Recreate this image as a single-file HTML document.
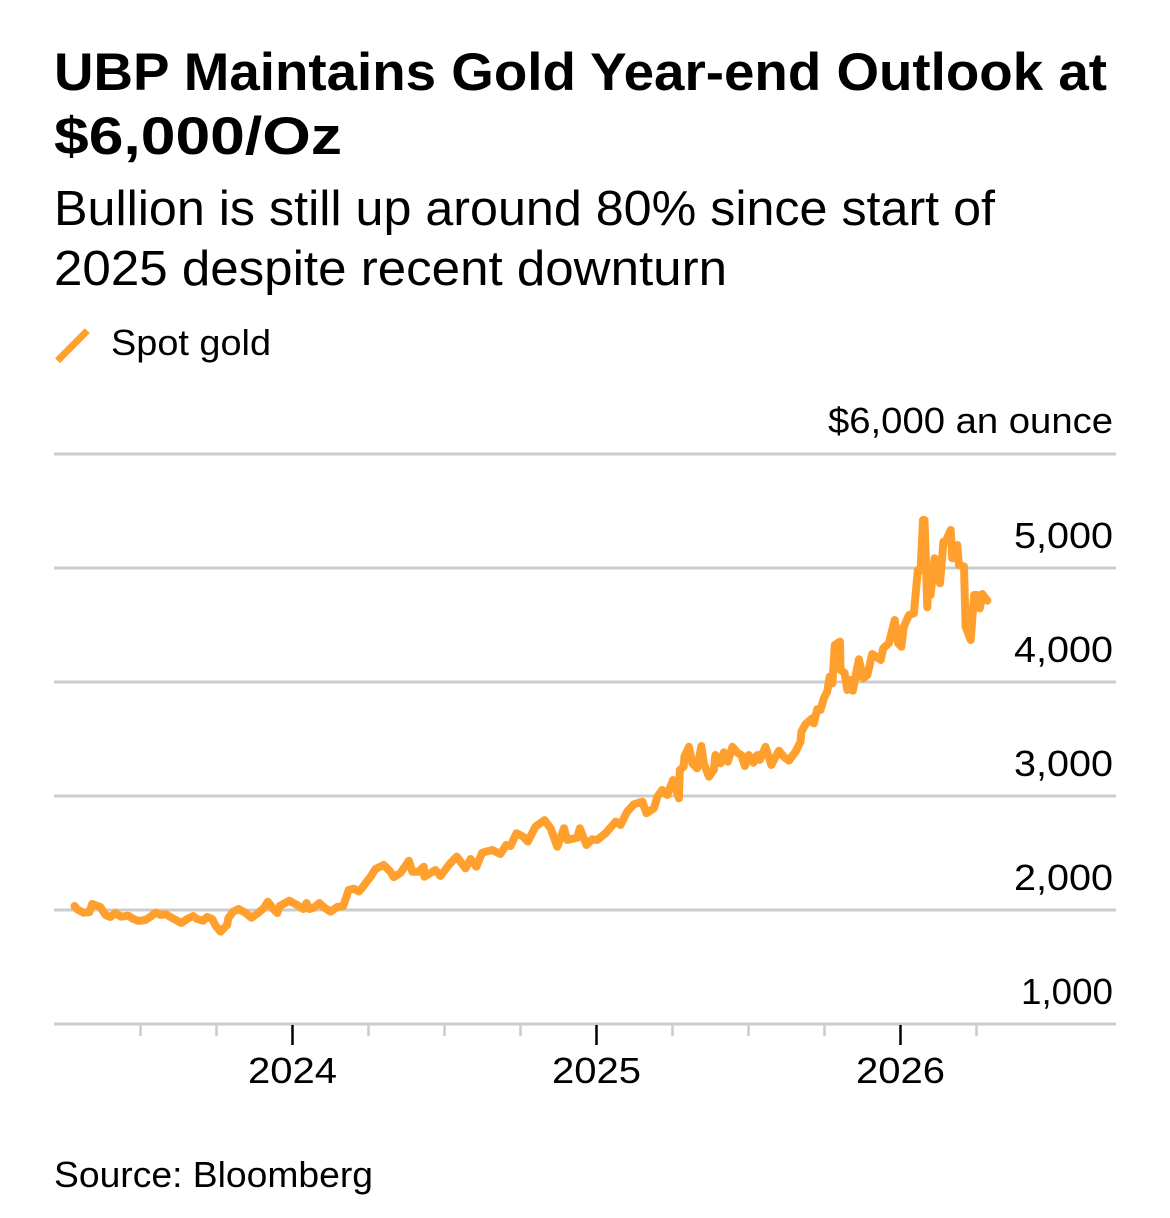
<!DOCTYPE html>
<html lang="en">
<head>
<meta charset="utf-8">
<title>UBP Maintains Gold Year-end Outlook at $6,000/Oz</title>
<style>
html,body{margin:0;padding:0;background:#fff;width:1170px;height:1218px;overflow:hidden}
svg{display:block}
text{font-family:"Liberation Sans",Arial,sans-serif;fill:#000}
</style>
</head>
<body>
<svg id="chart" xmlns="http://www.w3.org/2000/svg" width="1170" height="1218" viewBox="0 0 1170 1218">
  <text x="54" y="90" font-size="53" font-weight="700" lengthAdjust="spacingAndGlyphs" textLength="1053">UBP Maintains Gold Year-end Outlook at</text>
  <text x="54" y="154" font-size="53" font-weight="700" lengthAdjust="spacingAndGlyphs" textLength="288">$6,000/Oz</text>
  <text x="54" y="225" font-size="49" lengthAdjust="spacingAndGlyphs" textLength="941">Bullion is still up around 80% since start of</text>
  <text x="54" y="285" font-size="49" lengthAdjust="spacingAndGlyphs" textLength="673">2025 despite recent downturn</text>
  <line x1="57.5" y1="360.7" x2="87.3" y2="330.7" stroke="#ffa02e" stroke-width="7"/>
  <text x="111" y="355" font-size="36" lengthAdjust="spacingAndGlyphs" textLength="160">Spot gold</text>
  <text x="828" y="433" font-size="36" lengthAdjust="spacingAndGlyphs" textLength="285">$6,000 an ounce</text>
  <g id="grid"></g>
  <g id="xaxis"></g>
  <g id="ylabels"></g>
  <path id="series" fill="none" stroke="#ffa02e" stroke-width="8" stroke-linejoin="round" stroke-linecap="round"/>
  <text x="54" y="1187" font-size="36" lengthAdjust="spacingAndGlyphs" textLength="319">Source: Bloomberg</text>
</svg>
<script>
var dates = [2023.283,2023.292,2023.312,2023.332,2023.341,2023.368,2023.385,2023.401,2023.418,2023.436,2023.460,2023.477,2023.493,2023.516,2023.533,2023.549,2023.566,2023.582,2023.604,2023.634,2023.654,2023.673,2023.686,2023.706,2023.719,2023.736,2023.749,2023.763,2023.785,2023.789,2023.805,2023.823,2023.845,2023.865,2023.888,2023.906,2023.919,2023.937,2023.950,2023.958,2023.989,2024.015,2024.036,2024.046,2024.056,2024.069,2024.088,2024.102,2024.125,2024.147,2024.167,2024.185,2024.202,2024.218,2024.229,2024.240,2024.257,2024.273,2024.300,2024.322,2024.333,2024.355,2024.383,2024.394,2024.416,2024.432,2024.434,2024.470,2024.487,2024.514,2024.540,2024.569,2024.586,2024.605,2024.624,2024.657,2024.684,2024.703,2024.717,2024.737,2024.759,2024.774,2024.799,2024.829,2024.849,2024.871,2024.893,2024.904,2024.937,2024.945,2024.967,2024.986,2025.002,2025.030,2025.063,2025.079,2025.101,2025.123,2025.151,2025.164,2025.189,2025.200,2025.216,2025.233,2025.252,2025.271,2025.274,2025.287,2025.289,2025.304,2025.315,2025.331,2025.345,2025.353,2025.370,2025.386,2025.391,2025.408,2025.419,2025.432,2025.447,2025.463,2025.476,2025.488,2025.501,2025.516,2025.529,2025.537,2025.556,2025.575,2025.600,2025.616,2025.633,2025.655,2025.671,2025.674,2025.688,2025.710,2025.715,2025.726,2025.737,2025.748,2025.759,2025.767,2025.776,2025.784,2025.801,2025.803,2025.816,2025.825,2025.834,2025.843,2025.863,2025.877,2025.891,2025.907,2025.935,2025.943,2025.962,2025.981,2025.992,2026.003,2026.011,2026.028,2026.044,2026.057,2026.066,2026.074,2026.079,2026.088,2026.093,2026.099,2026.112,2026.130,2026.141,2026.148,2026.165,2026.170,2026.187,2026.192,2026.209,2026.214,2026.231,2026.242,2026.253,2026.261,2026.269,2026.286];
var prices = [2035,2006,1976,1982,2053,2026,1956,1939,1974,1941,1950,1921,1904,1912,1941,1976,1956,1965,1930,1886,1921,1947,1921,1906,1939,1921,1854,1810,1868,1930,1985,2009,1976,1932,1976,2018,2073,2009,1974,2035,2082,2044,2009,2061,2009,2018,2061,2026,1985,2026,2035,2175,2187,2161,2193,2234,2292,2360,2395,2336,2289,2325,2432,2336,2336,2380,2292,2351,2298,2395,2468,2366,2447,2380,2503,2526,2491,2570,2561,2673,2643,2599,2731,2789,2717,2555,2717,2614,2634,2717,2570,2620,2614,2673,2775,2746,2862,2927,2950,2848,2892,2994,3053,3009,3140,2980,3228,3257,3345,3432,3287,3243,3439,3287,3169,3228,3360,3287,3383,3301,3432,3380,3360,3263,3360,3292,3360,3316,3432,3272,3397,3345,3310,3389,3476,3564,3632,3682,3638,3761,3754,3857,3915,4047,3989,4325,4354,4105,4079,3930,4018,3924,4199,4032,4061,4246,4193,4296,4340,4544,4340,4310,4485,4588,4603,4982,4982,5421,5421,4655,4924,4763,5085,4866,5231,5231,5333,5085,5202,5026,5012,4485,4368,4763,4763,4646,4772,4713];
var gridValues = [1000,2000,3000,4000,5000,6000];
var yTickLabels = ["1,000","2,000","3,000","4,000","5,000"];
var yTickValues = [1000,2000,3000,4000,5000];
var yearTicks = [2024,2025,2026];
var yearLabels = ["2024","2025","2026"];
var quarterTicks = [2023.5,2023.75,2024.25,2024.5,2024.75,2025.25,2025.5,2025.75,2026.25];

var NS = 'http://www.w3.org/2000/svg';
function xScale(t){ return 292.5 + (t - 2024) * 304; }
function yScale(v){ return 1024 - (v - 1000) * 0.114; }
function make(tag, attrs, parent){
  var el = document.createElementNS(NS, tag);
  for (var k in attrs) el.setAttribute(k, attrs[k]);
  parent.appendChild(el);
  return el;
}

var grid = document.getElementById('grid');
gridValues.forEach(function(v){
  var ln = make('line', {x1:54, x2:1116, y1:yScale(v), y2:yScale(v), stroke:'#cccccc', 'stroke-width':3}, grid);
  
  
});

var xaxis = document.getElementById('xaxis');
quarterTicks.forEach(function(t){
  var ln = make('line', {x1:xScale(t), x2:xScale(t), y1:1024, y2:1036, stroke:'#cccccc', 'stroke-width':2.5}, xaxis);
  
  
});
yearTicks.forEach(function(t, i){
  var ln = make('line', {x1:xScale(t), x2:xScale(t), y1:1025, y2:1045, stroke:'#000000', 'stroke-width':2.5}, xaxis);
  
  
  var tx = make('text', {x:xScale(t) - 44.5, y:1083, 'font-size':36, lengthAdjust:'spacingAndGlyphs', textLength:89}, xaxis);
  
  
  tx.textContent = yearLabels[i];
});

var ylabels = document.getElementById('ylabels');
yTickValues.forEach(function(v, i){
  var w = v === 1000 ? 92 : 99;
  var tx = make('text', {x:1113 - w, y:yScale(v) - 20, 'font-size':36, lengthAdjust:'spacingAndGlyphs', textLength:w}, ylabels);
  
  
  tx.textContent = yTickLabels[i];
});

var d = '';
dates.forEach(function(t, i){
  d += (i ? 'L' : 'M') + xScale(t).toFixed(1) + ' ' + yScale(prices[i]).toFixed(1);
});
document.getElementById('series').setAttribute('d', d);
</script>
</body>
</html>
